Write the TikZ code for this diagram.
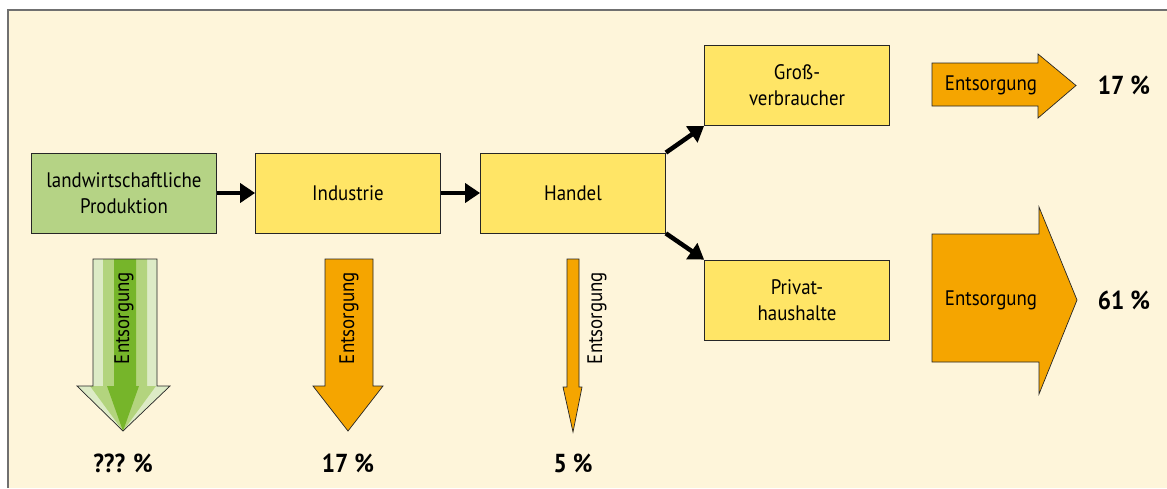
\documentclass[tikz,border=0pt]{standalone}
\usepackage{fontspec}
\setmainfont{PT Sans}[FakeStretch=0.9]
\usetikzlibrary{arrows.meta}
\definecolor{bgcream}{HTML}{FEF5DA}
\definecolor{boxyellow}{HTML}{FFE566}
\definecolor{boxgreen}{HTML}{B5D385}
\definecolor{wasteorange}{HTML}{F5A500}
\definecolor{greenlight}{HTML}{DDEBC6}
\definecolor{greenmid}{HTML}{B3D47E}
\definecolor{greendark}{HTML}{76B52A}
\definecolor{framegray}{HTML}{707070}

\begin{document}
\begin{tikzpicture}[x=1pt,y=-1pt,
  stage/.style={draw=black!85,line width=0.8pt,fill=boxyellow,minimum width=185pt,
    minimum height=80pt,align=center,font=\fontsize{21}{26}\selectfont},
  flow/.style={line width=4.5pt,-{Triangle[length=15pt,width=19pt]}},
  waste/.style={fill=wasteorange,draw=black!85,line width=0.7pt},
  wastetext/.style={font=\fontsize{21}{24}\selectfont},
  share/.style={font=\fontsize{26}{28}\selectfont\bfseries}]
  \useasboundingbox (0,0) rectangle (1167,488);
  % background and frame
  \fill[bgcream] (8,10) rectangle (1167,488);
  \draw[framegray,line width=2pt] (8,488) -- (8,10) -- (1167,10);

  % stages of the chain
  \node[stage,fill=boxgreen] (agri) at (124,193) {landwirtschaftliche\\Produktion};
  \node[stage] (ind) at (348,193) {Industrie};
  \node[stage] (handel) at (573,193) {Handel};
  \node[stage] (gross) at (797,85.5) {Groß-\\verbraucher};
  \node[stage] (privat) at (797,300) {Privat-\\haushalte};

  \draw[flow] (agri) -- (ind);
  \draw[flow] (ind) -- (handel);
  \draw[flow] (handel.north east) -- (gross.south west);
  \draw[flow] (handel.south east) -- (privat.north west);

  % agriculture (green, striped)
  \fill[greenlight] (93,259) -- (157,259) -- (157,386) -- (170,386) -- (123,431)
    -- (77,386) -- (93,386) -- cycle;
  \fill[greenmid] (103,259) -- (147,259) -- (147,386) -- (156,386) -- (123,431)
    -- (90,386) -- (103,386) -- cycle;
  \fill[greendark] (114,259) -- (136,259) -- (136,386) -- (139,386) -- (123,431)
    -- (107,386) -- (114,386) -- cycle;
  \draw[black!85,line width=0.7pt] (93,259) -- (157,259) -- (157,386) -- (170,386)
    -- (123,431) -- (77,386) -- (93,386) -- cycle;
  \node[wastetext,rotate=90] (wagri) at (124,318) {Entsorgung};
  \node[share] (pagri) at (123,463) {??? \%};

  % industry
  \path[waste] (325,259) -- (373,259) -- (373,386) -- (383,386) -- (348,431)
    -- (313,386) -- (325,386) -- cycle;
  \node[wastetext,rotate=90] (wind) at (349,318) {Entsorgung};
  \node[share] (pind) at (348,463) {17 \%};

  % trade
  \path[waste] (567,259) -- (579,259) -- (579,387) -- (582,387) -- (573,432)
    -- (563,387) -- (567,387) -- cycle;
  \node[wastetext,rotate=90] (whandel) at (597,318) {Entsorgung};
  \node[share] (phandel) at (573,463) {5 \%};

  % bulk consumers
  \path[waste] (932,63) -- (1038,63) -- (1038,54) -- (1076,85.5) -- (1038,118)
    -- (1038,106) -- (932,106) -- cycle;
  \node[wastetext] (wgross) at (991,85) {Entsorgung};
  \node[share] (pgross) at (1124,85.5) {17 \%};

  % private households
  \path[waste] (932,234) -- (1039,234) -- (1039,207) -- (1077,300) -- (1039,394)
    -- (1039,362) -- (932,362) -- cycle;
  \node[wastetext] (wprivat) at (991,300) {Entsorgung};
  \node[share] (pprivat) at (1124,300) {61 \%};
\end{tikzpicture}
\end{document}
